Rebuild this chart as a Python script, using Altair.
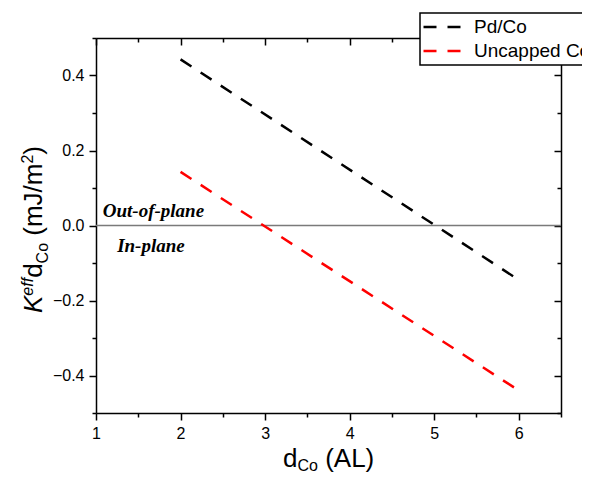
import altair as alt
import pandas as pd

# ---------------- data ----------------
series_names = ["Pd/Co", "Uncapped Co"]
series_colors = ["#000000", "#ff0000"]
x_vals = [2, 6]
pdco_vals = [0.443, -0.145]
uncapped_vals = [0.143, -0.44]

x_domain = [1, 6.5]
y_domain = [-0.5, 0.5]
x_major = [1, 2, 3, 4, 5, 6]
x_minor = [1.5, 2.5, 3.5, 4.5, 5.5, 6.5]
y_major = [-0.4, -0.2, 0.0, 0.2, 0.4]
y_minor = [-0.5, -0.3, -0.1, 0.1, 0.3, 0.5]

ann_texts = ["Out-of-plane", "In-plane"]
ann_x = [1.08, 1.25]
ann_y = [0.023, -0.071]

zero_line = [0.0]

W, H = 465, 375

rows = []
for name, vals in zip(series_names, [pdco_vals, uncapped_vals]):
    for xv, yv in zip(x_vals, vals):
        rows.append({"x": xv, "y": yv, "series": name})
df = pd.DataFrame(rows)

xs = alt.Scale(domain=x_domain, nice=False, zero=False)
ys = alt.Scale(domain=y_domain, nice=False, zero=False)

base_ax = dict(grid=False, domainColor="black", tickColor="black", domainWidth=1.5,
               tickWidth=1.5, labelFlush=False, labelOverlap=False, title=None)


def make_axis(values, size, orient, labels=False, domain=False, offset=0, fmt=None):
    kw = dict(base_ax)
    kw.update(values=values, tickSize=size, orient=orient, labels=labels, domain=domain)
    if offset:
        kw["offset"] = offset
    if labels:
        kw.update(labelFont="Liberation Sans", labelFontSize=16, labelColor="black", labelPadding=5)
        if fmt:
            kw["format"] = fmt
    return alt.Axis(**kw)


def carrier(xaxis, yaxis):
    return alt.Chart(df).mark_point(opacity=0).encode(
        x=alt.X("x:Q", scale=xs, axis=xaxis),
        y=alt.Y("y:Q", scale=ys, axis=yaxis),
    )


c1 = carrier(make_axis(x_major, 7, "bottom", labels=True, domain=True, fmt="d"),
             make_axis(y_major, 7, "left", labels=True, domain=True, fmt=".1f"))
c2 = carrier(make_axis(x_minor, 4, "bottom"), make_axis(y_minor, 4, "left"))
c3 = carrier(make_axis(x_major, 7, "bottom", domain=True, offset=-H),
             make_axis(y_major, 7, "left", domain=True, offset=-W))
c4 = carrier(make_axis(x_minor, 4, "bottom", offset=-H),
             make_axis(y_minor, 4, "left", offset=-W))

zero = alt.Chart(pd.DataFrame({"y": zero_line})).mark_rule(
    color="#7a7a7a", strokeWidth=1.5
).encode(y=alt.Y("y:Q", scale=ys, axis=None))

lines = alt.Chart(df).mark_line(strokeWidth=2.5, strokeDash=[13, 11]).encode(
    x=alt.X("x:Q", scale=xs, axis=None),
    y=alt.Y("y:Q", scale=ys, axis=None),
    color=alt.Color(
        "series:N",
        scale=alt.Scale(domain=series_names, range=series_colors),
        legend=alt.Legend(
            title=None, orient="none", legendX=324, legendY=-25, direction="vertical",
            symbolType="stroke", symbolSize=1369, symbolStrokeWidth=2.5,
            symbolDash=[13, 11], clipHeight=24, rowPadding=0,
            labelFont="Liberation Sans", labelFontSize=19, labelColor="black",
            labelOffset=12, padding=2, fillColor="white", strokeColor="black",
        ),
    ),
)

ann = alt.Chart(pd.DataFrame({"t": ann_texts, "x": ann_x, "y": ann_y})).mark_text(
    align="left", baseline="alphabetic", font="Liberation Serif", fontStyle="italic",
    fontWeight="bold", fontSize=19, color="black"
).encode(
    x=alt.X("x:Q", scale=xs, axis=None),
    y=alt.Y("y:Q", scale=ys, axis=None),
    text="t:N",
)


def piece(text, x, y, dx, dy, size, italic=False, angle=0):
    kw = dict(align="left", baseline="alphabetic", font="Liberation Sans", fontSize=size,
              color="black", dx=dx, dy=dy)
    if italic:
        kw["fontStyle"] = "italic"
    if angle:
        kw["angle"] = angle
    return alt.Chart(pd.DataFrame({"t": [text]})).mark_text(**kw).encode(
        text="t:N", x=alt.value(x), y=alt.value(y)
    )


S, s = 26, 16
SP = 0.278 * S  # width of a space
# y title pieces (rotated, reading upward)
yx, yy = -54, 275
o1 = 0.667 * S
o2 = o1 + 1.112 * s
o3 = o2 + 0.556 * S
o4 = o3 + 1.278 * s + SP
o5 = o4 + (0.333 + 0.833 + 0.5 + 0.278 + 0.833) * S
o6 = o5 + 0.556 * s
y_title = [
    piece("K", yx, yy, 0, 0, S, italic=True, angle=270),
    piece("eff", yx, yy, o1, -9, s, italic=True, angle=270),
    piece("d", yx, yy, o2, 0, S, angle=270),
    piece("Co", yx, yy, o3, 6, s, angle=270),
    piece("(mJ/m", yx, yy, o4, 0, S, angle=270),
    piece("2", yx, yy, o5, -9, s, angle=270),
    piece(")", yx, yy, o6, 0, S, angle=270),
]
# x title pieces
xx, xy = 187, 429
x_title = [
    piece("d", xx, xy, 0, 0, S),
    piece("Co", xx, xy, 0.556 * S, 4, s),
    piece("(AL)", xx, xy, 0.556 * S + 1.278 * s + SP, 0, S),
]

chart = alt.layer(
    zero, lines, c1, c2, c3, c4, ann, *y_title, *x_title
).resolve_axis(x="independent", y="independent").properties(
    width=W, height=H,
    padding={"left": 88, "top": 30, "right": 21, "bottom": 62},
    autosize=alt.AutoSizeParams(type="none"),
).configure_view(stroke=None).configure_legend(strokeWidth=1.5)

chart.save("out.html", embed_options={"renderer": "svg", "actions": False})
